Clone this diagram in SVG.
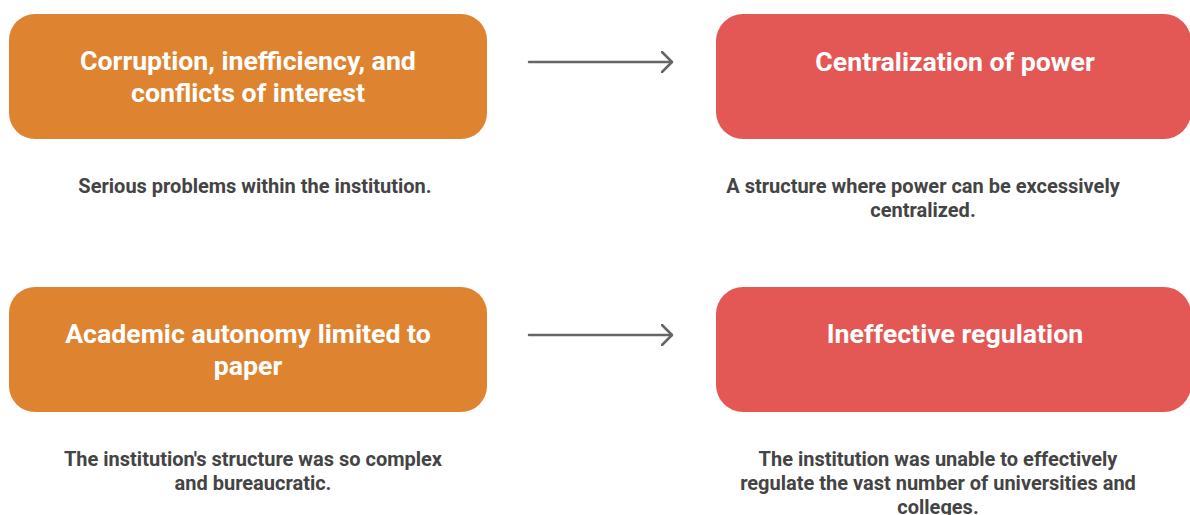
<svg xmlns="http://www.w3.org/2000/svg" width="1190" height="515" viewBox="0 0 1190 515">
<style>
.orange{fill:#DE8431}
.red{fill:#E35855}
.title{font-family:Roboto,"Liberation Sans",sans-serif;font-weight:700;font-size:26.7px;fill:#ffffff;text-anchor:middle}
.desc{font-family:Roboto,"Liberation Sans",sans-serif;font-weight:700;font-size:20px;fill:#444444;text-anchor:middle}
.conn{stroke:#666666;stroke-width:2.5;fill:none;stroke-linecap:round;stroke-linejoin:round}
</style>
<defs>
<marker id="arrow" viewBox="0 0 12 22" refX="11" refY="11" markerWidth="12" markerHeight="22" markerUnits="userSpaceOnUse" orient="auto">
<path d="M1,1 L11,11 L1,21" stroke="#666666" stroke-width="2.5" fill="none" stroke-linecap="round" stroke-linejoin="round"/>
</marker>
</defs>
<rect width="1190" height="515" fill="#ffffff"/>
<g id="connectors">
<line class="conn" x1="529" y1="62" x2="672" y2="62" marker-end="url(#arrow)"/>
<line class="conn" x1="529" y1="335" x2="672" y2="335" marker-end="url(#arrow)"/>
</g>
<g id="node-corruption">
<rect class="orange" x="9" y="14" width="478" height="125" rx="26" ry="26"/>
<text class="title" x="248" y="70">Corruption, inefficiency, and</text>
<text class="title" x="248" y="102">conflicts of interest</text>
<text class="desc" x="255" y="193">Serious problems within the institution.</text>
</g>
<g id="node-centralization">
<rect class="red" x="716" y="14" width="475" height="125" rx="27" ry="27"/>
<text class="title" x="955" y="71">Centralization of power</text>
<text class="desc" x="923" y="193">A structure where power can be excessively</text>
<text class="desc" x="923" y="217">centralized.</text>
</g>
<g id="node-autonomy">
<rect class="orange" x="9" y="287" width="478" height="125" rx="26" ry="26"/>
<text class="title" x="248" y="343">Academic autonomy limited to</text>
<text class="title" x="248" y="375">paper</text>
<text class="desc" x="253" y="466">The institution's structure was so complex</text>
<text class="desc" x="253" y="490">and bureaucratic.</text>
</g>
<g id="node-regulation">
<rect class="red" x="716" y="287" width="475" height="125" rx="27" ry="27"/>
<text class="title" x="955" y="343">Ineffective regulation</text>
<text class="desc" x="938" y="466">The institution was unable to effectively</text>
<text class="desc" x="938" y="490">regulate the vast number of universities and</text>
<text class="desc" x="938" y="514">colleges.</text>
</g>
</svg>
